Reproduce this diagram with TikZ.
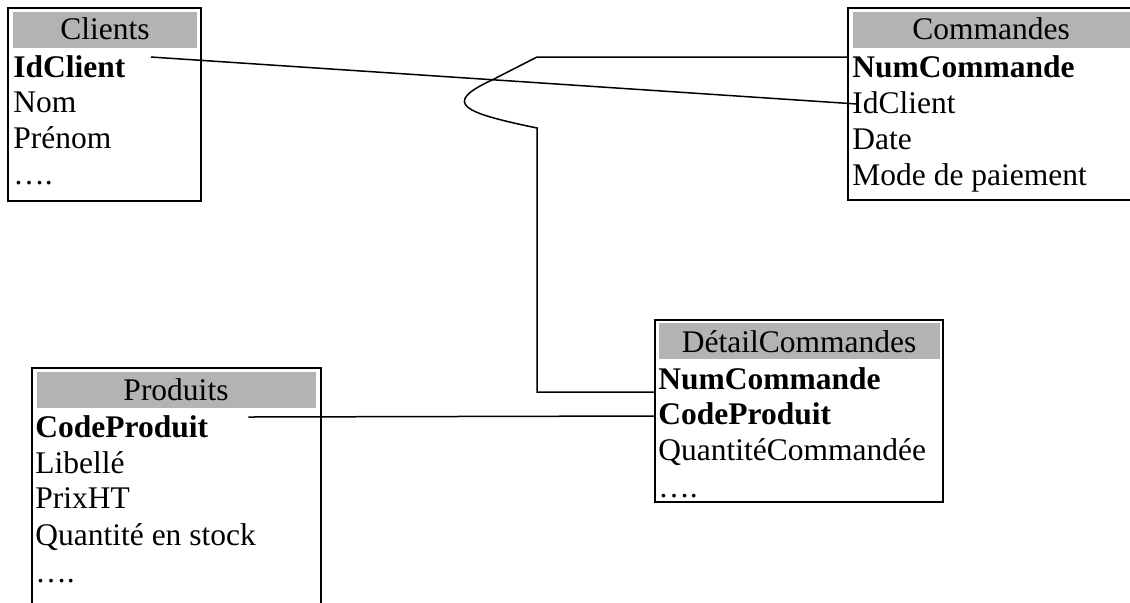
\documentclass[tikz,border=0pt]{standalone}
\usepackage{fontspec}
\setmainfont{Liberation Serif}
\usetikzlibrary{calc}
\definecolor{headgray}{RGB}{179,179,179}
\newcommand{\tabfont}{\fontsize{15.75}{18}\selectfont}

\begin{document}
\begin{tikzpicture}[x=0.5pt,y=-0.5pt,font=\tabfont,
                    frame/.style={draw=black,line width=1pt},
                    head/.style={fill=headgray},
                    title/.style={anchor=base,inner sep=0pt},
                    field/.style={anchor=base west,inner sep=0pt},
                    key/.style={field,font=\tabfont\bfseries},
                    link/.style={draw=black,line width=0.75pt}]
  \clip (0,0) rectangle (1130,602);

  % Clients
  \draw[frame] (8,8) rectangle (201,201);
  \fill[head] (13,12) rectangle (197,48);
  \node[title] (cli)   at (105,39)  {Clients};
  \node[key]   (cid)   at (13,77)   {IdClient};
  \node[field] (cnom)  at (13,112)  {Nom};
  \node[field] (cpre)  at (13,148)  {Prénom};
  \node[field] (cdots) at (13,184)  {….};

  % Commandes
  \draw[frame] (848,8) rectangle (1134,200);
  \fill[head] (853,12) rectangle (1130,48);
  \node[title] (cmd)   at (991,39)  {Commandes};
  \node[key]   (onum)  at (852,77)  {NumCommande};
  \node[field] (oid)   at (852,113) {IdClient};
  \node[field] (odate) at (852,149) {Date};
  \node[field] (omode) at (852,185) {Mode de paiement};

  % Produits
  \draw[frame] (32,368) rectangle (321,640);
  \fill[head] (37,372) rectangle (316,408);
  \node[title] (prod)  at (176,400) {Produits};
  \node[key]   (pcode) at (35,437)  {CodeProduit};
  \node[field] (plib)  at (35,473)  {Libellé};
  \node[field] (pprix) at (35,508)  {PrixHT};
  \node[field] (pqte)  at (35,545)  {Quantité en stock};
  \node[field] (pdots) at (35,582)  {….};

  % DetailCommandes
  \draw[frame] (655,320) rectangle (943,502);
  \fill[head] (659,323) rectangle (940,359);
  \node[title] (det)   at (799,352) {DétailCommandes};
  \node[key]   (dnum)  at (658,389) {NumCommande};
  \node[key]   (dcode) at (658,424) {CodeProduit};
  \node[field] (dqte)  at (658,460) {QuantitéCommandée};
  \node[field] (ddots) at (658,497) {….};

  % links
  \draw[link] ($(cid.base east)+(25,-20)$) -- ($(oid.base west)+(5,-9)$);
  \draw[link] ($(onum.base west)+(-4,-20)$) -- (537,57) -- (492,80)
        .. controls (440,104) and (465,113) .. (537,128)
        |- ($(dnum.base west)+(-3,3)$);
  \draw[link] ($(pcode.base east)+(40,-20)$) -- ($(dcode.base west)+(-3,-8)$);
\end{tikzpicture}
\end{document}
